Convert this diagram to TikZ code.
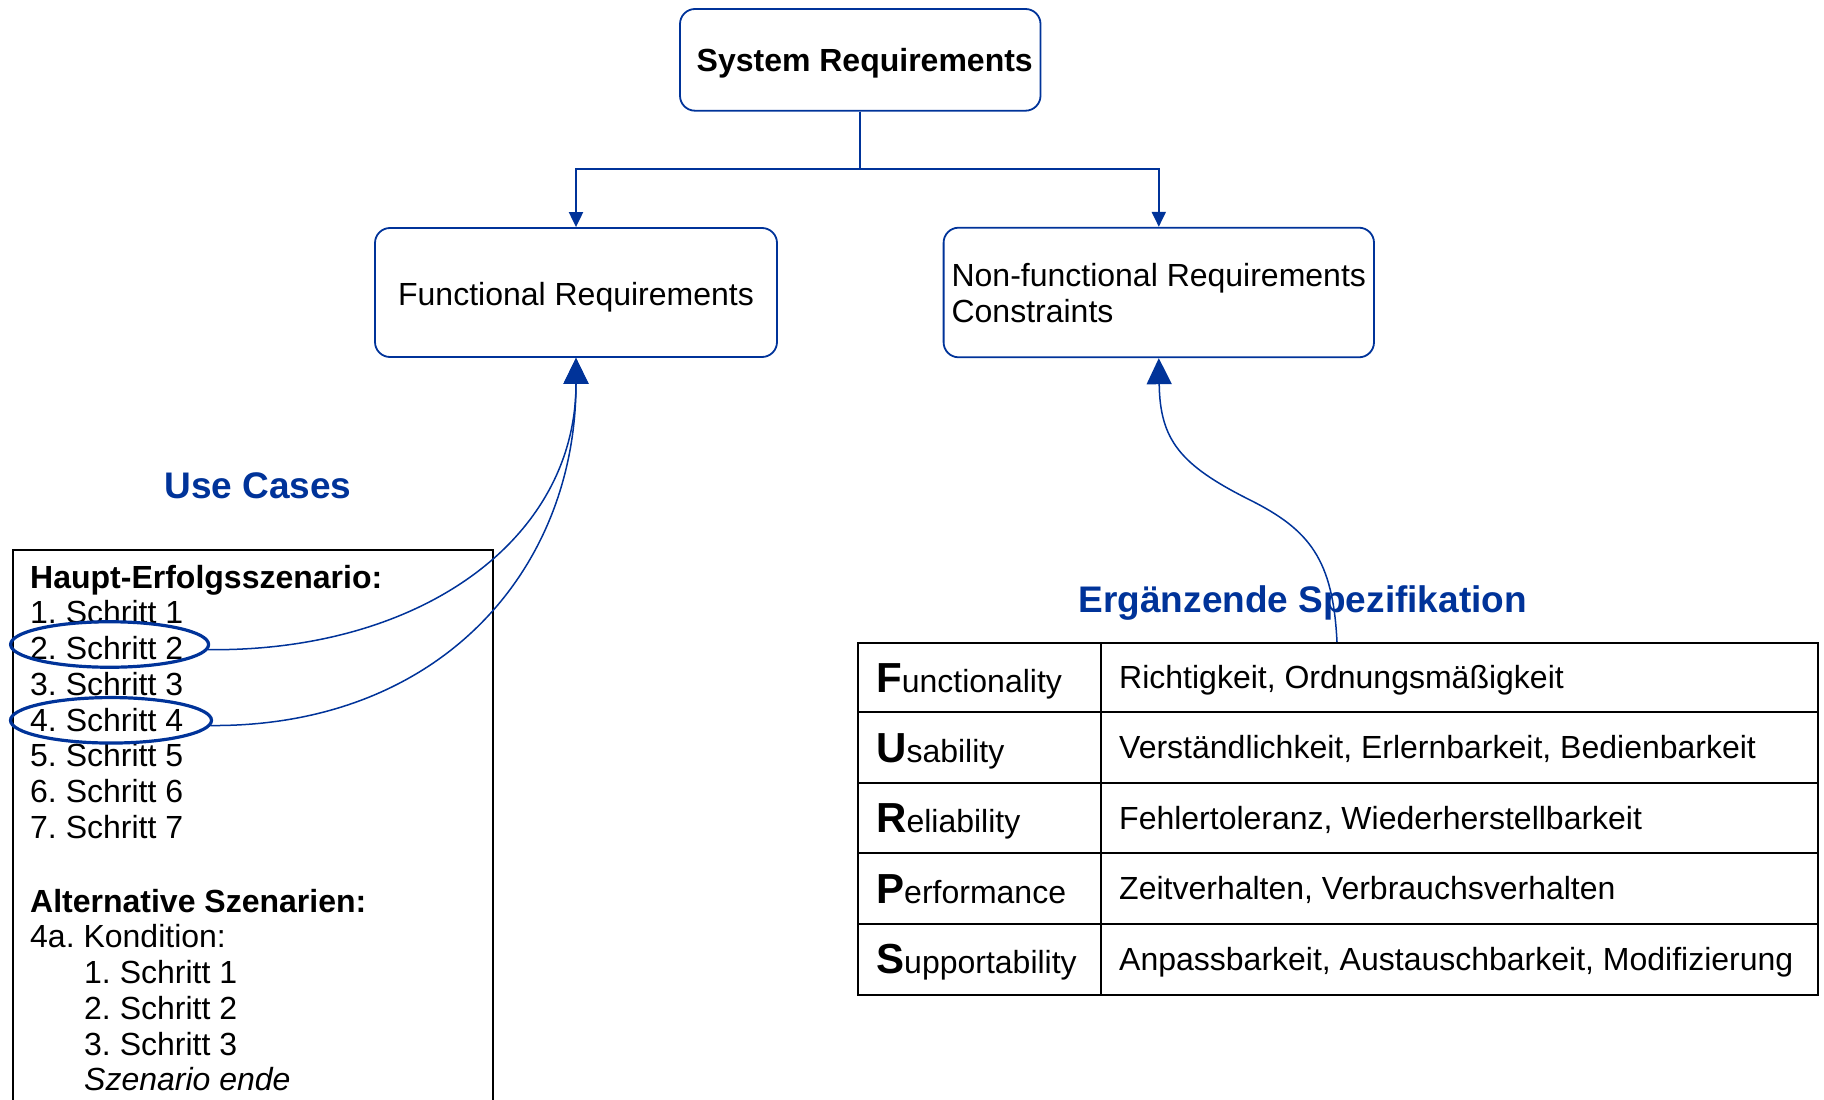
\documentclass[tikz,border=0pt]{standalone}
\usepackage{fontspec}
\setmainfont{Liberation Sans}
\usetikzlibrary{arrows.meta,shapes.geometric}
\definecolor{reqblue}{RGB}{0,51,153}
% Quality-attribute label: bold initial followed by the rest of the word
\newcommand\qcap[2]{{\fontsize{42}{42}\selectfont\bfseries #1}#2}

\begin{document}
\frenchspacing
\begin{tikzpicture}[x=1pt,y=-1pt,
  reqbox/.style={draw=reqblue, line width=1.8pt, rounded corners=15pt,
                 inner sep=0pt, text=black},
  link/.style={draw=reqblue, line width=2pt, -{Triangle[length=15pt,width=14pt]}},
  trace/.style={draw=reqblue, line width=1.5pt, -{Triangle[length=26pt,width=25pt]}},
  stepring/.style={draw=reqblue, ellipse, line width=3.2pt, inner sep=0pt},
  body/.style={font=\fontsize{32}{36}\selectfont, inner sep=0pt, anchor=base west},
  heading/.style={font=\fontsize{37}{42}\selectfont\bfseries, text=reqblue,
                  inner sep=0pt, anchor=base},
  grid/.style={draw=black, line width=2pt},
]
\useasboundingbox (0,0) rectangle (1824,1100);
\clip (0,0) rectangle (1824,1100);

% --- requirement hierarchy -------------------------------------------
\node[reqbox, minimum width=360.5pt, minimum height=101.7pt, text depth=0pt,
      font=\fontsize{32}{36}\selectfont\bfseries] (sys) at (860.25,59.85)
      {\hspace*{9pt}System Requirements};
\node[reqbox, minimum width=402pt, minimum height=129pt, text depth=0pt,
      font=\fontsize{32}{36}\selectfont] (func) at (576,292.5)
      {\raisebox{-2pt}{Functional Requirements}};
\node[reqbox, minimum width=430.4pt, minimum height=129.6pt, align=left,
      text depth=0pt, font=\fontsize{32}{36}\selectfont] (nf) at (1158.8,292.5)
      {\raisebox{-1pt}{Non-functional Requirements}\\\raisebox{-1pt}{Constraints}};

\coordinate (fork) at (860.25,169);
\draw[link] (sys.south) -- (fork) -| (func.north);
\draw[link] (fork) -| (nf.north);

% --- use cases ---------------------------------------------------------
\node[heading] (uctitle) at (258,498) {Use Cases};
\node[grid, minimum width=480pt, minimum height=600pt, inner sep=0pt,
      anchor=north west] (ucbox) at (12,549) {};

\node[body] (main) at (30,588) {\bfseries Haupt-Erfolgsszenario:};
\node[body] (s1) at (30,623.5) {1. Schritt 1};
\node[body] (s2) at (30,659.5) {2. Schritt 2};
\node[body] (s3) at (30,695)   {3. Schritt 3};
\node[body] (s4) at (30,731)   {4. Schritt 4};
\node[body] (s5) at (30,766.5) {5. Schritt 5};
\node[body] (s6) at (30,802.5) {6. Schritt 6};
\node[body] (s7) at (30,838)   {7. Schritt 7};
\node[body] (alt) at (30,912)  {\bfseries Alternative Szenarien:};
\node[body] (cond) at (30,947.5) {4a. Kondition:};
\node[body] (a1) at (84,983.5)  {1. Schritt 1};
\node[body] (a2) at (84,1019)   {2. Schritt 2};
\node[body] (a3) at (84,1055)   {3. Schritt 3};
\node[body] (aend) at (84,1090) {\itshape Szenario ende};

\node[stepring, minimum width=198pt, minimum height=45.5pt] (e2) at (109.6,644.5) {};
\node[stepring, minimum width=201pt, minimum height=45.5pt] (e4) at (111,720.3) {};

\draw[trace] (e2.-3) .. controls (420,652) and (576,540) .. (func.south);
\draw[trace] (e4.-3) .. controls (440,727) and (576,570) .. (func.south);

% --- supplementary specification (FURPS) -------------------------------
\node[heading] (spectitle) at (1302.8,612) {Ergänzende Spezifikation};
\node[grid, minimum width=960pt, minimum height=352pt, inner sep=0pt,
      anchor=north west] (spec) at (857,642) {};
\foreach \yy in {712.4,782.8,853.2,923.6}
  \draw[grid] (857,\yy) -- (1817,\yy);
\draw[grid] (1101,642) -- (1101,994);

\node[body] (qf) at (876,692) {\qcap{F}{unctionality}};
\node[body] (qu) at (876,762.4) {\qcap{U}{sability}};
\node[body] (qr) at (876,832.8) {\qcap{R}{eliability}};
\node[body] (qp) at (876,903.2) {\qcap{P}{erformance}};
\node[body] (qs) at (876,973.6) {\qcap{S}{upportability}};

\node[body] (df) at (1119,688.4) {Richtigkeit, Ordnungsmäßigkeit};
\node[body] (du) at (1119,758.8) {Verständlichkeit, Erlernbarkeit, Bedienbarkeit};
\node[body] (dr) at (1119,829.2) {Fehlertoleranz, Wiederherstellbarkeit};
\node[body] (dp) at (1119,899.6) {Zeitverhalten, Verbrauchsverhalten};
\node[body] (ds) at (1119,970)   {Anpassbarkeit, Austauschbarkeit, Modifizierung};

\coordinate (specanchor) at (1337,642);
\draw[trace] (specanchor) .. controls (1333,560) and (1310,530) .. (1250,500)
             .. controls (1180,465) and (1160,440) .. (nf.south);
\end{tikzpicture}
\end{document}
